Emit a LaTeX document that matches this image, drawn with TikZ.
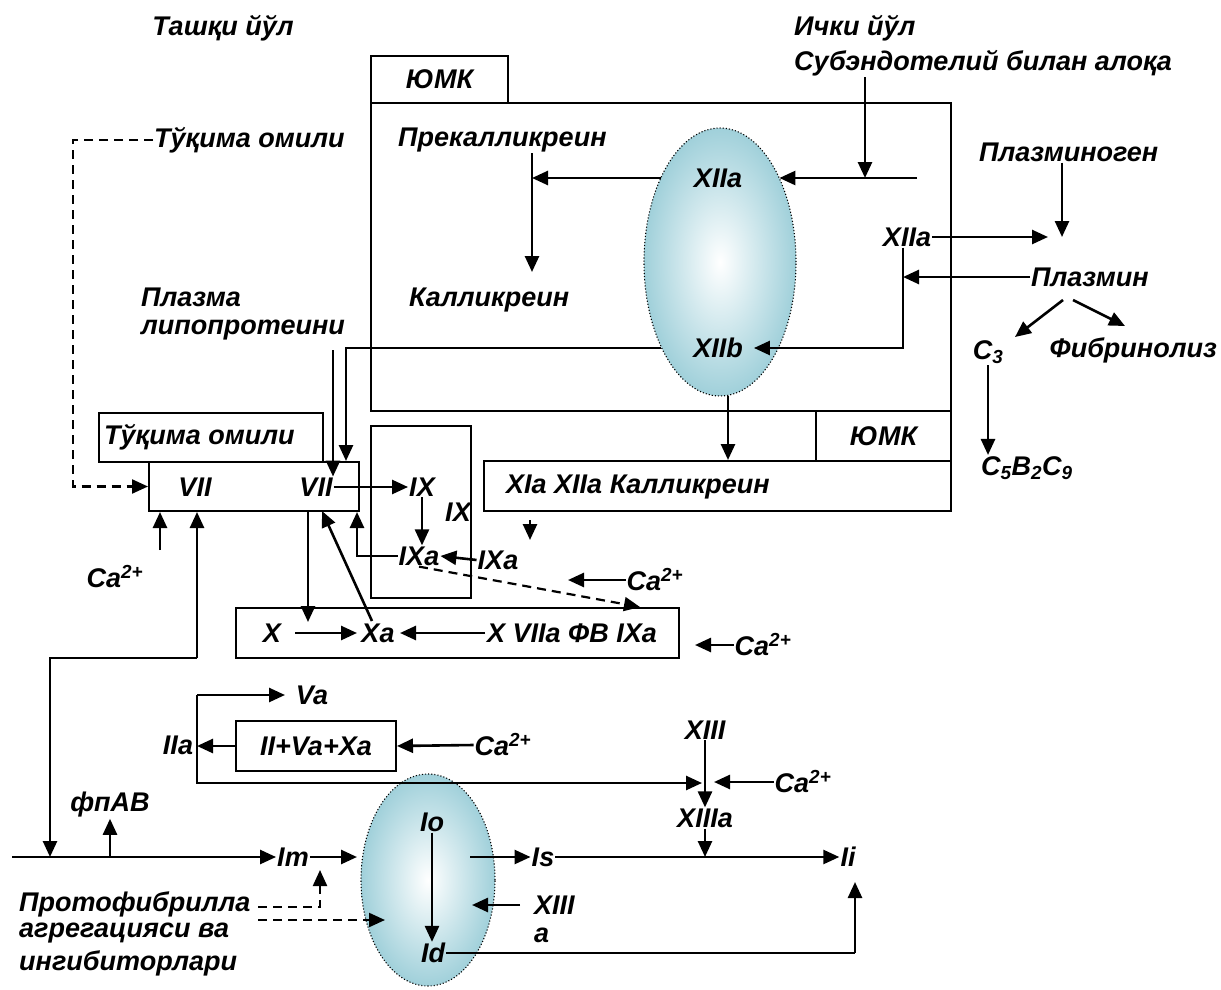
\documentclass[tikz,border=0pt]{standalone}
\usepackage{fontspec}
\setmainfont{Liberation Sans}
\usetikzlibrary{arrows.meta,shapes.geometric}
\definecolor{ellc}{RGB}{160,208,218}
\begin{document}
\begin{tikzpicture}[x=1pt,y=-1pt,
 lbl/.style={font=\bfseries\itshape\fontsize{27}{31}\selectfont, inner sep=1pt},
 box/.style={draw, line width=2pt, inner sep=0pt, anchor=north west},
 ln/.style={line width=2.6pt},
 arr/.style={ln,-{Triangle[length=16pt,width=14pt]}},
 dsh/.style={line width=2.2pt, dash pattern=on 9pt off 6pt,-{Triangle[length=16pt,width=14pt]}},
 ell/.style={ellipse, draw, line width=1.1pt, dotted, inner color=white, outer color=ellc}]
\useasboundingbox (0,0) rectangle (1221,990);

% boxes
\node[box, lbl, minimum width=137pt, minimum height=47pt] (yumk1) at (370,55) {ЮМК};
\node[box, minimum width=580pt, minimum height=308pt] (big) at (370,102) {};
\node[box, lbl, minimum width=135pt, minimum height=50pt] (yumk2) at (815,410) {ЮМК};
\node[box, minimum width=467pt, minimum height=50pt] (xia) at (483,460) {};
\node[box, minimum width=100pt, minimum height=172pt] (ixbox) at (370,425) {};
\node[box, minimum width=224pt, minimum height=49pt] (tuq) at (98,412) {};
\node[box, minimum width=210pt, minimum height=49pt] (vii) at (148,461) {};
\node[box, minimum width=443pt, minimum height=50pt] (xbox) at (235,607) {};
\node[box, lbl, minimum width=160pt, minimum height=50pt] (iibox) at (235,720) {II+Va+Xa};

% ellipses
\node[ell, minimum width=152pt, minimum height=268pt] (e1) at (720,262) {};
\node[ell, minimum width=134pt, minimum height=212pt] (e2) at (428,880) {};

% texts
\node[lbl] (tashqi) at (223,28) {Ташқи йўл};
\node[lbl, anchor=west] (ichki) at (793,28) {Ички йўл};
\node[lbl, anchor=west] (subend) at (793,63) {Субэндотелий билан алоқа};
\node[lbl, anchor=west] (tuq1) at (153,140) {Тўқима омили};
\node[lbl, anchor=west] (prekal) at (397,140) {Прекалликреин};
\node[lbl] (xiia1) at (718,178) {XIIa};
\node[lbl, anchor=west] (kal) at (408,300) {Калликреин};
\node[lbl] (xiia2) at (907,237) {XIIa};
\node[lbl] (xiib) at (718,348) {XIIb};
\node[lbl, anchor=west] (plgen) at (978,152) {Плазминоген};
\node[lbl, anchor=west] (plmin) at (1030,277) {Плазмин};
\node[lbl] (c3) at (988,352) {C\textsubscript{3}};
\node[lbl, anchor=east] (fibr) at (1218,350) {Фибринолиз};
\node[lbl, anchor=west] (c5) at (980,468) {C\textsubscript{5}B\textsubscript{2}C\textsubscript{9}};
\node[lbl, anchor=west] (plz1) at (140,297) {Плазма};
\node[lbl, anchor=west] (plz2) at (140,330) {липопротеини};
\node[lbl, anchor=west] (tuq2) at (103,437) {Тўқима омили};
\node[lbl] (vii1) at (195,487) {VII};
\node[lbl] (vii2) at (316,487) {VII};
\node[lbl] (ix1) at (422,487) {IX};
\node[lbl] (ix2) at (458,512) {IX};
\node[lbl] (ixa1) at (419,556) {IXa};
\node[lbl] (ixa2) at (498,560) {IXa};
\node[lbl, anchor=west] (xiatext) at (505,487) {XIa XIIa Калликреин};
\node[lbl] (ca1) at (115,577) {Ca\textsuperscript{2+}};
\node[lbl] (ca2) at (655,580) {Ca\textsuperscript{2+}};
\node[lbl] (ca3) at (763,645) {Ca\textsuperscript{2+}};
\node[lbl] (ca4) at (503,745) {Ca\textsuperscript{2+}};
\node[lbl] (ca5) at (803,782) {Ca\textsuperscript{2+}};
\node[lbl] (xt) at (272,633) {X};
\node[lbl] (xa) at (378,633) {Xa};
\node[lbl] (xvii) at (572,633) {X VIIa ФВ IXa};
\node[lbl] (va) at (312,695) {Va};
\node[lbl] (iia) at (178,745) {IIa};
\node[lbl] (xiii) at (705,730) {XIII};
\node[lbl] (xiiia) at (705,818) {XIIIa};
\node[lbl] (fpab) at (110,805) {фпАВ};
\node[lbl] (im) at (293,857) {Im};
\node[lbl] (io) at (432,822) {Io};
\node[lbl] (is) at (543,857) {Is};
\node[lbl] (ii) at (848,857) {Ii};
\node[lbl] (id) at (433,953) {Id};
\node[lbl, anchor=west] (xiii2) at (533,905) {XIII};
\node[lbl, anchor=west] (a2) at (533,935) {a};
\node[lbl, anchor=west] (pr1) at (18,904) {Протофибрилла};
\node[lbl, anchor=west] (pr2) at (18,933) {агрегацияси ва};
\node[lbl, anchor=west] (pr3) at (18,963) {ингибиторлари};

% coordinates
\coordinate (d1) at (73,140);
\coordinate (s2) at (865,178);
\coordinate (r1) at (917,178);
\coordinate (k1) at (532,178);
\coordinate (k2) at (532,272);
\coordinate (p1) at (1048,237);
\coordinate (p2) at (1062,237);
\coordinate (p3) at (903,277);
\coordinate (p4) at (903,348);
\coordinate (q1) at (346,348);
\coordinate (q2) at (333,350);
\coordinate (v1) at (728,396);
\coordinate (u1) at (357,556);
\coordinate (w1) at (530,520);
\coordinate (w2) at (530,540);
\coordinate (c2t) at (568,580);
\coordinate (dx1) at (640,607);
\coordinate (c3t) at (695,645);
\coordinate (y2) at (308,622);
\coordinate (z1) at (322,511);
\coordinate (c1a) at (160,550);
\coordinate (L1) at (197,658);
\coordinate (L2) at (50,658);
\coordinate (L3) at (50,857);
\coordinate (m0) at (12,857);
\coordinate (f0) at (110,857);
\coordinate (im1) at (357,857);
\coordinate (is0) at (470,857);
\coordinate (b1) at (197,695);
\coordinate (b2) at (197,783);
\coordinate (b3) at (702,783);
\coordinate (c5t) at (714,782);
\coordinate (t0) at (520,905);
\coordinate (t1) at (472,905);
\coordinate (r9) at (855,953);
\coordinate (r10) at (855,882);
\coordinate (pd0) at (258,907);
\coordinate (pd1) at (320,907);
\coordinate (pd2) at (320,870);
\coordinate (pe0) at (258,920);
\coordinate (pe1) at (385,920);
\coordinate (x1a) at (372,621);
\coordinate (xs1) at (295,633);
\coordinate (xs2) at (357,633);
\coordinate (xs3) at (485,633);
\coordinate (xs4) at (400,633);
\coordinate (vat) at (285,695);
\coordinate (pm1) at (1063,300);
\coordinate (c3a) at (1015,337);
\coordinate (pm2) at (1073,300);
\coordinate (fba) at (1125,326);

% connectors
\draw[dsh] (tuq1.west) -- (d1) |- (vii.west);
\draw[arr] (s2 |- subend.south) -- (s2);
\draw[arr] (r1) -- (r1 -| e1.55);
\draw[arr] (xiia1 -| e1.125) -- (k1);
\draw[arr] (k1 |- prekal.south) -- (k2);
\draw[arr] (xiia2.east) -- (p1);
\draw[arr] (p2 |- plgen.south) -- (p2);
\draw[arr] (plmin.west) -- (p3);
\draw[arr] (p3 |- xiia2.south) -- (p4) -- ([xshift=10pt]xiib.east);
\draw[arr] (xiib -| e1.235) -- (q1) -- (q1 |- vii.north);
\draw[arr] (q2) -- (q2 |- vii2.north);
\draw[arr] (v1) -- (v1 |- xia.north);
\draw[arr] (vii2.east) -- (ix1.west);
\draw[arr] (ix1.south) -- (ix1.south |- ixa1.north);
\draw[arr] (ixa1.west) -- (u1) -- (u1 |- vii.south);
\draw[arr] (ixa2.west) -- (ixa1.east);
\draw[arr] (w1) -- (w2);
\draw[arr] (ca2.west) -- (c2t);
\draw[dsh] (ixa1.south) -- (dx1);
\draw[arr] (ca3.west) -- (c3t);
\draw[arr] (xs1) -- (xs2);
\draw[arr] (xs3) -- (xs4);
\draw[arr] (y2 |- vii.south) -- (y2);
\draw[arr] (x1a) -- (z1);
\draw[arr] (c1a) -- (c1a |- vii.south);
\draw[arr] (L1) -- (L1 |- vii.south);
\draw[arr] (L1) -- (L2) -- (L3);
\draw[arr] (m0) -- (im.west);
\draw[arr] (f0) -- (fpab.south);
\draw[arr] (im.east) -- (im1);
\draw[arr] (io.south) -- (io.south |- id.north);
\draw[arr] (is0) -- (is.west);
\draw[arr] (is.east) -- (ii.west);
\draw[arr] (xiii.south) -- (xiiia.north);
\draw[arr] (xiiia.south) -- (xiiia.south |- is);
\draw[arr] (b1) -- (vat);
\draw[arr] (b1) -- (b2) -- (b3);
\draw[arr] (iibox.west) -- (b1 |- iibox.west);
\draw[arr] (ca4.west) -- (iibox.east);
\draw[arr] (ca5.west) -- (c5t);
\draw[arr] (t0) -- (t1);
\draw[ln] (id.east) -- (r9);
\draw[arr] (r9) -- (r10);
\draw[dsh] (pd0) -- (pd1) -- (pd2);
\draw[dsh] (pe0) -- (pe1);
\draw[arr] (pm1) -- (c3a);
\draw[arr] (pm2) -- (fba);
\draw[arr] (c3.south) -- (c3.south |- c5.north);
\end{tikzpicture}
\end{document}
